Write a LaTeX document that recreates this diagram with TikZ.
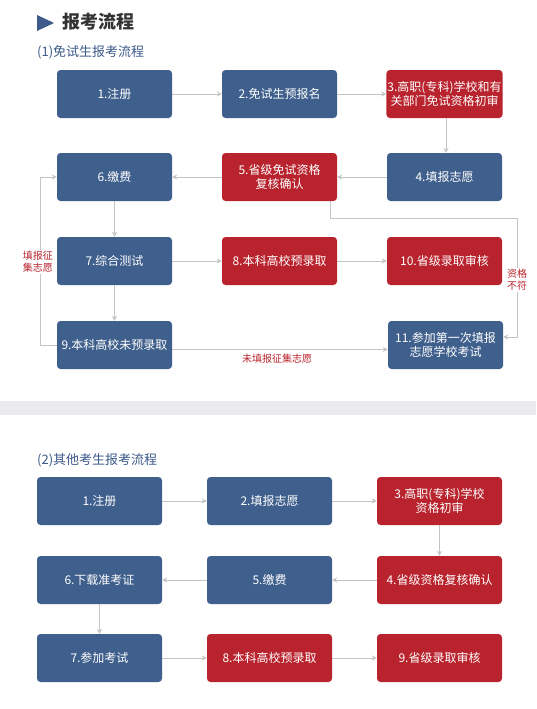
\documentclass[tikz,border=0pt]{standalone}
\usepackage{fontspec}
\setmainfont{Noto Sans CJK SC}
\usetikzlibrary{arrows.meta}
\definecolor{boxblue}{HTML}{3F5F8C}
\definecolor{boxred}{HTML}{B8232D}
\definecolor{linegray}{HTML}{C4C4C4}
\definecolor{titleblue}{HTML}{3D5A8A}
\definecolor{titlegray}{HTML}{333333}
\definecolor{bandgray}{HTML}{EBEBEE}

\begin{document}
\begin{tikzpicture}[x=1pt,y=-1pt,
		bluebox/.style={fill=boxblue, rounded corners=3.5pt, text=white, minimum width=115pt, minimum height=48pt, align=center, inner sep=1pt, font=\fontsize{12}{14}\selectfont},
		redbox/.style={bluebox, fill=boxred},
		widebox/.style={minimum width=125pt},
		flow/.style={draw=linegray, line width=0.9pt, -{Stealth[length=5pt,width=5pt]}},
		redlabel/.style={text=boxred, fill=white, align=center, inner sep=1pt, font=\fontsize{10}{12}\selectfont},
		heading/.style={anchor=west, text=titleblue, inner sep=0pt, font=\fontsize{13}{15}\selectfont}]
			\fill[white] (0,0) rectangle (536,709);
			\useasboundingbox (0,0) rectangle (536,709);
			\fill[bandgray] (0,401) rectangle (536,415);
		
			\fill[titleblue] (37,15) -- (54,23) -- (37,31) -- cycle;
			\node[anchor=west, inner sep=0pt, text=titlegray, font=\bfseries\fontsize{18}{20}\selectfont] (title) at (62,22) {报考流程};
			\node[heading] (head1) at (37,52) {(1)免试生报考流程};
		
			\node[bluebox] (s1) at (114.5,94) {1.注册};
			\node[bluebox] (s2) at (279.5,94) {2.免试生预报名};
			\node[redbox] (s3) at (444.5,94) {3.高职(专科)学校和有\\关部门免试资格初审};
			\node[bluebox] (s4) at (444.5,177) {4.填报志愿};
			\node[redbox] (s5) at (279.5,177) {5.省级免试资格\\复核确认};
			\node[bluebox] (s6) at (114.5,177) {6.缴费};
			\node[bluebox] (s7) at (114.5,261) {7.综合测试};
			\node[redbox] (s8) at (279.5,261) {8.本科高校预录取};
			\node[redbox] (s10) at (444.5,261) {10.省级录取审核};
			\node[bluebox] (s9) at (114.5,345) {9.本科高校未预录取};
			\node[bluebox] (s11) at (445.5,345) {11.参加第一次填报\\志愿学校考试};
		
			\draw[flow] (s1) -- (s2);
			\draw[flow] (s2) -- (s3);
			\draw[flow] ([xshift=1.5pt]s3.south) -- ([xshift=1.5pt]s4.north);
			\draw[flow] (s4) -- (s5);
			\draw[flow] (s5) -- (s6);
			\draw[flow] (s6) -- (s7);
			\draw[flow] (s7) -- (s8);
			\draw[flow] (s8) -- (s10);
			\draw[flow] (s7) -- (s9);
			\draw[flow] (s9.west) -- ++(-16,0) |- (s6.west);
			\draw[flow] ([yshift=-4.5pt]s9.east) -- ([yshift=-4.5pt]s11.west);
			\draw[flow] ([xshift=-7pt]s5.south east) -- ++(0,17) -| ([xshift=14pt,yshift=8pt]s11.east) -- ([yshift=8pt]s11.east);
		
			\node[redlabel] (lab1) at (38,262) {填报征\\集志愿};
			\node[redlabel] (lab2) at (517,280) {资格\\不符};
			\node[redlabel, fill=none] (lab3) at (277,359) {未填报征集志愿};
		
			\node[heading] (head2) at (37,460) {(2)其他考生报考流程};
		
			\node[bluebox, widebox] (t1) at (99.5,501) {1.注册};
			\node[bluebox, widebox] (t2) at (269.5,501) {2.填报志愿};
			\node[redbox, widebox] (t3) at (439.5,501) {3.高职(专科)学校\\资格初审};
			\node[redbox, widebox] (t4) at (439.5,580) {4.省级资格复核确认};
			\node[bluebox, widebox] (t5) at (269.5,580) {5.缴费};
			\node[bluebox, widebox] (t6) at (99.5,580) {6.下载准考证};
			\node[bluebox, widebox] (t7) at (99.5,658) {7.参加考试};
			\node[redbox, widebox] (t8) at (269.5,658) {8.本科高校预录取};
			\node[redbox, widebox] (t9) at (439.5,658) {9.省级录取审核};
		
			\draw[flow] (t1) -- (t2);
			\draw[flow] (t2) -- (t3);
			\draw[flow] (t3) -- (t4);
			\draw[flow] (t4) -- (t5);
			\draw[flow] (t5) -- (t6);
			\draw[flow] (t6) -- (t7);
			\draw[flow] (t7) -- (t8);
			\draw[flow] (t8) -- (t9);
		\end{tikzpicture}
\end{document}
